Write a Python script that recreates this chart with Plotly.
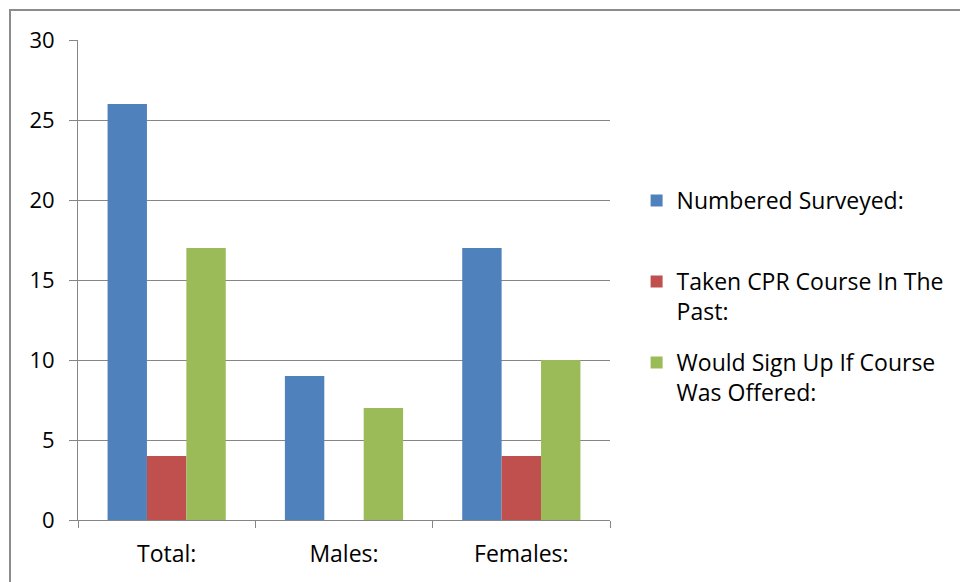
import plotly.graph_objects as go

categories = ["Total:", "Males:", "Females:"]
series_names = ["Numbered Surveyed:", "Taken CPR Course In The<br>Past:", "Would Sign Up If Course<br>Was Offered:"]
numbered_surveyed = [26, 9, 17]
taken_cpr = [4, 0, 4]
would_sign_up = [17, 7, 10]
colors = ["#4F81BD", "#C0504D", "#9BBB59"]
y_ticks = [0, 5, 10, 15, 20, 25, 30]

FONT = "Open Sans"
FS = 22
fig = go.Figure()
values = [numbered_surveyed, taken_cpr, would_sign_up]
legends = ["legend", "legend2", "legend3"]
for name, vals, col, lg in zip(series_names, values, colors, legends):
    fig.add_trace(go.Bar(x=categories, y=vals, name=name, marker=dict(color=col, line=dict(width=0)),
                         legend=lg))

H_PLOT = 480.0
def py(pix):
    return (520 - pix) / H_PLOT

legend_common = dict(xanchor="left", yanchor="top", x=1.05, valign="top",
                     font=dict(family=FONT, size=23, color="#000000"), bgcolor="rgba(0,0,0,0)",
                     tracegroupgap=0, itemclick=False)
fig.update_layout(
    width=960, height=582,
    margin=dict(l=78, r=350, t=40, b=62, autoexpand=False),
    paper_bgcolor="white", plot_bgcolor="white",
    font=dict(family=FONT, size=FS, color="#000000"),
    barmode="group", bargap=1.5/4.5, bargroupgap=0,
    showlegend=True,
    legend=dict(legend_common, y=py(179)),
    legend2=dict(legend_common, y=py(260)),
    legend3=dict(legend_common, y=py(341)),
    xaxis=dict(showgrid=False, showline=True, linecolor="#868686", linewidth=1,
               ticks="outside", tickson="boundaries", ticklen=7, tickcolor="#868686",
               ticklabelstandoff=13, tickfont=dict(family=FONT, size=23)),
    yaxis=dict(range=[0, 30], tickvals=y_ticks, showgrid=True, gridcolor="#868686", gridwidth=1,
               showline=True, linecolor="#868686", linewidth=1, zeroline=False,
               ticks="outside", ticklen=8, tickcolor="#868686",
               ticklabelstandoff=10, tickfont=dict(family=FONT, size=FS)),
    shapes=[dict(type="rect", xref="paper", yref="paper",
                 x0=(10 - 78) / 532.0, x1=2.0, y0=-0.5, y1=py(10),
                 line=dict(color="#8c8c8c", width=2), fillcolor="rgba(0,0,0,0)", layer="below")],
)
fig.write_html("out.html")
